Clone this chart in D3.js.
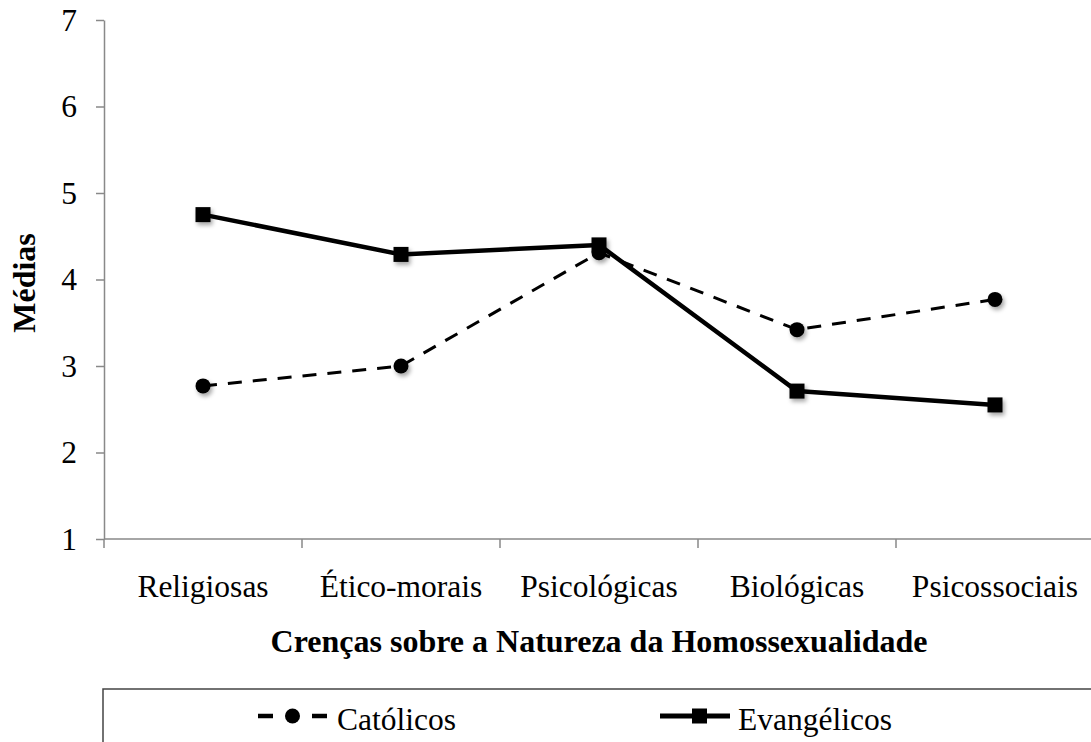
<!DOCTYPE html>
<html>
<head>
<meta charset="utf-8">
<script src="https://cdn.jsdelivr.net/npm/d3@7/dist/d3.min.js"></script>
<style>
  html, body { margin: 0; padding: 0; background: #fff; }
  svg { display: block; }
  svg text { font-family: 'Liberation Serif', 'Times New Roman', Times, 'DejaVu Serif', serif !important; fill: #000; }
</style>
</head>
<body>
<svg id="chart" width="1091" height="742"></svg>
<script>
const categories = ["Religiosas", "Ético-morais", "Psicológicas", "Biológicas", "Psicossociais"];
const catolicos = [2.77, 3.00, 4.31, 3.42, 3.77];
const evangelicos = [4.75, 4.29, 4.40, 2.71, 2.55];
const yTicks = [1, 2, 3, 4, 5, 6, 7];
const seriesNames = ["Católicos", "Evangélicos"];
const xTitle = "Crenças sobre a Natureza da Homossexualidade";
const yTitle = "Médias";

const svg = d3.select("#chart");
const plotL = 104, plotR = 1094, plotT = 20, plotB = 539;
const axisColor = "#898989";
const fontSize = "31.5px";
const serif = "'Liberation Serif', 'Times New Roman', Times, 'DejaVu Serif', serif";

const x = d3.scaleBand().domain(categories).range([plotL, plotR]).padding(0);
const xp = d3.scalePoint().domain(categories).range([plotL, plotR]).padding(0.5);
const y = d3.scaleLinear().domain([1, 7]).range([plotB, plotT]);

// drop shadow
const defs = svg.append("defs");
const f = defs.append("filter").attr("id", "shadow").attr("x", "-50%").attr("y", "-50%").attr("width", "200%").attr("height", "200%");
f.append("feDropShadow").attr("dx", 2).attr("dy", 3).attr("stdDeviation", 2).attr("flood-color", "#000").attr("flood-opacity", 0.35);

// Y axis
const yAxis = svg.append("g").attr("transform", `translate(${plotL},0)`)
  .call(d3.axisLeft(y).tickValues(yTicks).tickSize(8).tickSizeOuter(0).tickPadding(19).tickFormat(d3.format("d")));
yAxis.attr("font-family", serif);
yAxis.select(".domain").attr("stroke", axisColor).attr("stroke-width", 1.5);
yAxis.selectAll(".tick line").attr("stroke", axisColor).attr("stroke-width", 1.5);
yAxis.selectAll(".tick text").style("font-size", fontSize).attr("fill", "#000");

// X axis line
svg.append("line").attr("x1", plotL).attr("x2", plotR).attr("y1", plotB).attr("y2", plotB)
  .attr("stroke", axisColor).attr("stroke-width", 1.5);
const boundaries = categories.map(c => x(c)).concat([x(categories[categories.length - 1]) + x.bandwidth()]);
svg.selectAll(".xtick").data(boundaries).join("line")
  .attr("x1", d => d).attr("x2", d => d).attr("y1", plotB).attr("y2", plotB + 9)
  .attr("stroke", axisColor).attr("stroke-width", 1.5);
svg.selectAll(".xlab").data(categories).join("text")
  .attr("x", d => x(d) + x.bandwidth() / 2).attr("y", 597)
  .attr("text-anchor", "middle").style("font-size", fontSize).text(d => d);

// titles
svg.append("text").attr("x", (plotL + plotR) / 2).attr("y", 652).attr("text-anchor", "middle")
  .style("font-size", "32px").style("font-weight", "bold").text(xTitle);
svg.append("text").attr("transform", `translate(35,283) rotate(-90)`).attr("text-anchor", "middle")
  .style("font-size", "32px").style("font-weight", "bold").text(yTitle);

const line = d3.line().x((d, i) => xp(categories[i])).y(d => y(d));

// Católicos
svg.append("path").datum(catolicos).attr("d", line).attr("fill", "none")
  .attr("stroke", "#000").attr("stroke-width", 3).attr("stroke-dasharray", "14,11");
svg.append("g").attr("filter", "url(#shadow)").selectAll("circle").data(catolicos).join("circle")
  .attr("cx", (d, i) => xp(categories[i])).attr("cy", d => y(d)).attr("r", 7.5).attr("fill", "#000");

// Evangélicos
svg.append("path").datum(evangelicos).attr("d", line).attr("fill", "none")
  .attr("stroke", "#000").attr("stroke-width", 4.5).attr("stroke-linejoin", "round");
const sq = 15;
svg.append("g").attr("filter", "url(#shadow)").selectAll("rect").data(evangelicos).join("rect")
  .attr("x", (d, i) => xp(categories[i]) - sq / 2).attr("y", d => y(d) - sq / 2)
  .attr("width", sq).attr("height", sq).attr("fill", "#000");

// Legend
svg.append("rect").attr("x", 103).attr("y", 689).attr("width", 1010).attr("height", 120)
  .attr("fill", "none").attr("stroke", "#444").attr("stroke-width", 1.5);
const ly = 716;
svg.append("line").attr("x1", 258).attr("x2", 327).attr("y1", ly).attr("y2", ly)
  .attr("stroke", "#000").attr("stroke-width", 4.5).attr("stroke-dasharray", "15,39");
svg.append("circle").attr("cx", 292.5).attr("cy", ly).attr("r", 7.5).attr("fill", "#000");
svg.append("text").attr("x", 337).attr("y", 730).style("font-size", fontSize).text(seriesNames[0]);
svg.append("line").attr("x1", 660).attr("x2", 730).attr("y1", ly).attr("y2", ly)
  .attr("stroke", "#000").attr("stroke-width", 5);
svg.append("rect").attr("x", 699.5 - sq / 2).attr("y", ly - sq / 2).attr("width", sq).attr("height", sq).attr("fill", "#000");
svg.append("text").attr("x", 738).attr("y", 730).style("font-size", fontSize).text(seriesNames[1]);
</script>
</body>
</html>
